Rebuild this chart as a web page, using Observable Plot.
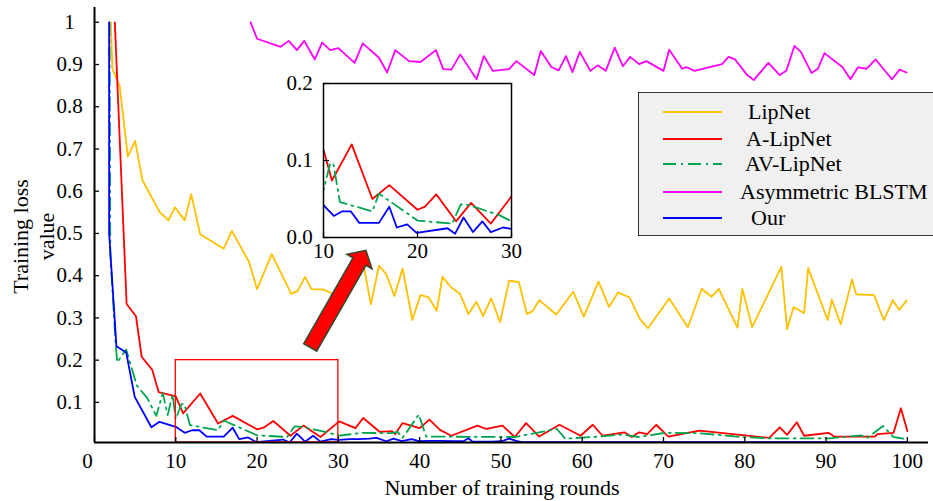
<!DOCTYPE html>
<html><head><meta charset="utf-8">
<script src="https://cdn.jsdelivr.net/npm/d3@7"></script>
<script src="https://cdn.jsdelivr.net/npm/@observablehq/plot@0.6"></script>
<style>
body{margin:0;background:#fff;}
#wrap{position:relative;width:933px;height:501px;overflow:hidden;font-family:"Liberation Serif","Times New Roman",serif;}
#wrap svg{position:absolute;font-family:"Liberation Serif","Times New Roman",serif;}
.legend{position:absolute;left:638px;top:92px;width:310px;height:144px;background:#f0f0f0;border:1.5px solid #333;box-sizing:border-box;font-size:22px;color:#000;}
.legend .row{position:absolute;left:0;height:26px;line-height:26px;white-space:nowrap;}
.legend .lab{position:absolute;top:0;}
</style></head><body><div id="wrap"></div>
<script>
// ---------- data ----------
const seriesNames = ["LipNet", "A-LipNet", "AV-LipNet", "Asymmetric BLSTM", "Our"];
const seriesColors = ["#ffc000", "#ff0000", "#00a550", "#ff00ff", "#0000ff"];
const seriesDash = [null, null, "13,5,2,5", null, null];

const lipNet = [[2.0,1.0],[2.2,0.890],[3.1,0.849],[4.1,0.682],[5.0,0.719],[5.9,0.626],[8.0,0.551],[9.1,0.531],[9.9,0.562],[11.1,0.531],[11.9,0.593],[13.0,0.498],[15.9,0.464],[16.9,0.506],[19.0,0.433],[20.0,0.368],[21.8,0.451],[24.2,0.357],[25.0,0.364],[25.9,0.397],[26.7,0.368],[28.2,0.367],[29.1,0.359],[30.5,0.335],[33.1,0.425],[34.0,0.332],[35.0,0.424],[35.9,0.403],[36.9,0.352],[37.9,0.417],[39.1,0.295],[40.1,0.354],[41.1,0.349],[42.1,0.317],[42.8,0.397],[43.9,0.372],[45.0,0.356],[46.0,0.309],[47.0,0.338],[47.8,0.304],[48.8,0.346],[49.9,0.290],[51.0,0.388],[52.2,0.385],[53.2,0.309],[53.9,0.316],[54.7,0.342],[56.8,0.308],[58.9,0.362],[60.2,0.303],[62.0,0.386],[63.3,0.326],[64.4,0.360],[65.8,0.349],[67.1,0.297],[68.1,0.276],[70.7,0.346],[73.0,0.278],[74.7,0.369],[75.9,0.350],[76.8,0.369],[79.1,0.277],[79.7,0.369],[80.9,0.278],[84.5,0.421],[85.2,0.273],[86.0,0.326],[87.3,0.311],[87.8,0.418],[90.2,0.295],[90.7,0.343],[91.8,0.285],[93.2,0.391],[93.7,0.356],[95.9,0.354],[97.1,0.295],[98.2,0.342],[99.0,0.319],[99.9,0.341]];

const aLipNet = [[2.5,1.0],[3.95,0.333],[5.1,0.304],[5.8,0.208],[7.1,0.177],[7.9,0.124],[10.0,0.114],[10.9,0.074],[13.0,0.121],[15.2,0.050],[17.0,0.068],[20.0,0.036],[20.8,0.040],[22.0,0.056],[24.1,0.021],[25.7,0.045],[27.8,0.018],[30.1,0.055],[32.1,0.039],[33.05,0.063],[35.1,0.030],[36.6,0.032],[37.0,0.025],[37.9,0.051],[40.0,0.039],[41.2,0.059],[42.5,0.035],[43.9,0.021],[47.1,0.045],[48.2,0.037],[50.2,0.045],[51.7,0.018],[53.1,0.051],[54.7,0.019],[57.2,0.047],[59.8,0.021],[61.3,0.047],[62.5,0.021],[65.2,0.029],[66.1,0.018],[67.0,0.029],[68.0,0.025],[69.1,0.047],[70.6,0.019],[74.4,0.033],[83.0,0.016],[84.3,0.041],[85.2,0.023],[86.4,0.053],[87.3,0.021],[90.3,0.028],[91.0,0.019],[96.0,0.019],[96.3,0.025],[98.3,0.028],[99.2,0.086],[100.0,0.032]];

const avLipNet = [[1.85,1.0],[1.95,0.45],[2.6,0.24],[2.8,0.195],[3.9,0.225],[5.2,0.14],[6.5,0.11],[7.6,0.068],[8.4,0.122],[9.0,0.07],[9.6,0.118],[10.0,0.061],[10.7,0.096],[11.05,0.096],[11.75,0.046],[15.2,0.034],[15.9,0.057],[20.0,0.022],[23.7,0.018],[24.6,0.043],[25.5,0.042],[28.7,0.029],[30.0,0.021],[33.0,0.028],[36.5,0.027],[37.3,0.030],[37.9,0.016],[39.9,0.071],[40.8,0.019],[51.7,0.018],[56.9,0.037],[57.9,0.014],[62.1,0.019],[64.9,0.024],[66.9,0.018],[70.2,0.028],[74.4,0.027],[79.6,0.018],[83.0,0.015],[90.5,0.015],[94.3,0.022],[95.0,0.015],[97.0,0.044],[98.3,0.018],[99.5,0.014]];

const asymBLSTM = [[19.2,1.0],[20.0,0.961],[22.9,0.942],[23.9,0.956],[24.9,0.934],[25.8,0.956],[27.1,0.912],[28.0,0.952],[29.0,0.934],[30.0,0.939],[32.0,0.904],[33.0,0.950],[35.0,0.916],[36.0,0.881],[37.0,0.934],[38.7,0.908],[40.1,0.906],[42.0,0.934],[42.9,0.889],[43.9,0.888],[45.0,0.924],[47.0,0.865],[47.9,0.920],[49.0,0.885],[51.0,0.889],[51.9,0.908],[54.1,0.875],[54.9,0.932],[56.2,0.894],[57.1,0.886],[58.0,0.920],[58.8,0.882],[59.7,0.930],[61.0,0.885],[61.9,0.898],[62.9,0.885],[64.0,0.940],[65.0,0.896],[65.9,0.918],[67.0,0.901],[67.9,0.908],[70.0,0.885],[70.7,0.935],[72.3,0.890],[72.8,0.894],[73.8,0.885],[77.2,0.901],[78.0,0.918],[78.8,0.912],[80.3,0.875],[81.1,0.863],[82.9,0.904],[84.3,0.875],[85.1,0.885],[86.1,0.944],[86.9,0.930],[88.2,0.880],[89.0,0.890],[89.8,0.927],[92.0,0.894],[93.0,0.865],[93.9,0.893],[95.0,0.890],[96.1,0.912],[98.1,0.865],[99.05,0.888],[99.9,0.881]];

const ours = [[1.8,1.0],[1.8,0.5],[2.7,0.233],[3.9,0.218],[4.95,0.113],[7.0,0.041],[8.0,0.054],[10.0,0.042],[11.1,0.028],[12.0,0.034],[12.9,0.034],[13.8,0.019],[15.9,0.019],[17.0,0.040],[17.8,0.013],[18.9,0.017],[19.9,0.006],[23.2,0.012],[24.0,0.005],[24.9,0.026],[25.9,0.007],[26.9,0.021],[27.8,0.007],[29.1,0.013],[30.1,0.011],[31.4,0.013],[32.6,0.013],[33.8,0.014],[34.7,0.016],[35.9,0.008],[36.8,0.014],[37.8,0.008],[39.0,0.013],[39.9,0.008],[41.1,0.009],[42.5,0.009],[44.2,0.008],[45.4,0.008],[46.0,0.015],[46.5,0.007],[48.9,0.007],[50.1,0.008],[51.0,0.014],[52.0,0.008],[52.6,0.006],[100.0,0.006]];

const xTicks = [0,10,20,30,40,50,60,70,80,90,100];
const yTicks = [0.1,0.2,0.3,0.4,0.5,0.6,0.7,0.8,0.9,1.0];
const insetXTicks = [10,20,30];
const insetYTicks = [0.0,0.1,0.2];
const zoomBox = [{x1:10, x2:30, y1:0.2}];
const arrowTail = [26.6, 0.229];
const arrowTip = [33.45, 0.459];
const xLabel = "Number of training rounds";
const yLabelLines = ["Training loss", "value"];

// ---------- plot ----------
const allSeries = [lipNet, aLipNet, avLipNet, asymBLSTM, ours];
const FONT = '"Liberation Serif","Times New Roman",serif';
const xDomain = [0, 102.6], yDomain = [0.005, 1.035];
const W = 933, H = 501, ML = 94, MR = 5, MT = 7, MB = 59;
const FW = W - ML - MR, FH = H - MT - MB;

const lineMarks = (clip) => allSeries.map((s, i) => Plot.line(s, {
  x: d => d[0], y: d => d[1], stroke: seriesColors[i], strokeWidth: 1.8,
  strokeDasharray: seriesDash[i] || undefined, clip
}));

const main = Plot.plot({
  width: W, height: H, marginLeft: ML, marginRight: MR, marginTop: MT, marginBottom: MB,
  style: {fontFamily: FONT, fontSize: "21px", color: "black", background: "transparent", overflow: "visible"},
  x: {domain: xDomain}, y: {domain: yDomain},
  marks: [
    ...lineMarks(false),
    Plot.rect(zoomBox, {x1: "x1", x2: "x2", y1: () => yDomain[0], y2: "y1", fill: "none", stroke: "#ff0000", strokeWidth: 1.3}),
    Plot.ruleX([0], {stroke: "black", strokeWidth: 2}),
    Plot.ruleY([yDomain[0]], {stroke: "black", strokeWidth: 2}),
    Plot.tickY(yTicks, {y: d => d, insetRight: FW - 5, stroke: "black", strokeWidth: 1.3}),
    Plot.tickX(xTicks, {x: d => d, insetTop: FH - 5, stroke: "black", strokeWidth: 1.3}),
    Plot.axisY(yTicks, {tickSize: 0, tickPadding: 25, textAnchor: "middle", tickFormat: d => String(+d.toFixed(1)), fontSize: 21, label: null}),
    Plot.axisX(xTicks.filter(d => d > 0), {tickSize: 0, tickPadding: 11, fontSize: 21, label: null}),
    Plot.axisX(xTicks.filter(d => d === 0), {tickSize: 0, tickPadding: 11, dx: -7, fontSize: 21, label: null}),
    Plot.text([xLabel], {text: d => d, frameAnchor: "bottom", textAnchor: "middle", dy: 52, dx: -9.5, fontSize: 22}),
    Plot.text([yLabelLines[0]], {text: d => d, frameAnchor: "left", textAnchor: "middle", rotate: -90, dx: 20 - ML, dy: 236 - (MT + FH / 2), fontSize: 22}),
    Plot.text([yLabelLines[1]], {text: d => d, frameAnchor: "left", textAnchor: "middle", rotate: -90, dx: 46 - ML, dy: 236 - (MT + FH / 2), fontSize: 22})
  ]
});
main.style.left = "0px"; main.style.top = "0px";

// block arrow (annotation) built from the plot's own scales
{
  const sx = main.scale("x"), sy = main.scale("y");
  const t = [sx.apply(arrowTail[0]), sy.apply(arrowTail[1])];
  const p = [sx.apply(arrowTip[0]), sy.apply(arrowTip[1])];
  const dx = p[0] - t[0], dy = p[1] - t[1], L = Math.hypot(dx, dy);
  const u = [dx / L, dy / L], n = [-u[1], u[0]];
  const w = 7.5, hw = 14.5, hl = 13;
  const b = [p[0] - u[0] * hl, p[1] - u[1] * hl];
  const pt = (o, k) => [o[0] + n[0] * k, o[1] + n[1] * k];
  const pts = [pt(t, w), pt(b, w), pt(b, hw), p, pt(b, -hw), pt(b, -w), pt(t, -w)];
  d3.select(main).append("path")
    .attr("d", "M" + pts.map(q => q.join(",")).join("L") + "Z")
    .attr("fill", "#ff0000").attr("stroke", "#2c4a30").attr("stroke-width", 1.5);
}

// inset
const IW = 240, IH = 190, IML = 40, IMT = 10, IMR = 12, IMB = 26;
const inset = Plot.plot({
  width: IW, height: IH, marginLeft: IML, marginTop: IMT, marginRight: IMR, marginBottom: IMB,
  style: {fontFamily: FONT, fontSize: "21px", color: "black", background: "transparent", overflow: "visible"},
  x: {domain: [10, 30]}, y: {domain: [0, 0.2]},
  marks: [
    Plot.frame({fill: "white", stroke: "none"}),
    ...lineMarks(true),
    Plot.frame({stroke: "black", strokeWidth: 1.5}),
    Plot.tickY(insetYTicks, {y: d => d, insetRight: IW - IML - IMR - 6, stroke: "black", strokeWidth: 1.2}),
    Plot.tickX(insetXTicks, {x: d => d, insetTop: IH - IMT - IMB - 6, stroke: "black", strokeWidth: 1.2}),
    Plot.axisY(insetYTicks, {tickSize: 0, tickPadding: 24, textAnchor: "middle", tickFormat: d => d.toFixed(1), fontSize: 21, label: null}),
    Plot.axisX(insetXTicks, {tickSize: 0, tickPadding: 6, fontSize: 21, label: null})
  ]
});
inset.style.left = (323 - IML) + "px"; inset.style.top = (83 - IMT) + "px";

const wrap = document.getElementById("wrap");
wrap.appendChild(main);
wrap.appendChild(inset);

// legend
const legend = document.createElement("div");
legend.className = "legend";
const rowTops = [6, 33, 58, 86, 112];
const labLeft = [109, 107, 106, 101, 112];
seriesNames.forEach((name, i) => {
  const row = document.createElement("div");
  row.className = "row";
  row.style.top = rowTops[i] + "px";
  row.innerHTML = `<svg width="60" height="26" style="position:absolute;left:24px;top:0"><line x1="0" x2="59" y1="13" y2="13" stroke="${seriesColors[i]}" stroke-width="1.8" ${seriesDash[i] ? `stroke-dasharray="${seriesDash[i]}"` : ""}/></svg><span class="lab" style="left:${labLeft[i]}px">${name}</span>`;
  legend.appendChild(row);
});
wrap.appendChild(legend);
</script>
</body></html>
